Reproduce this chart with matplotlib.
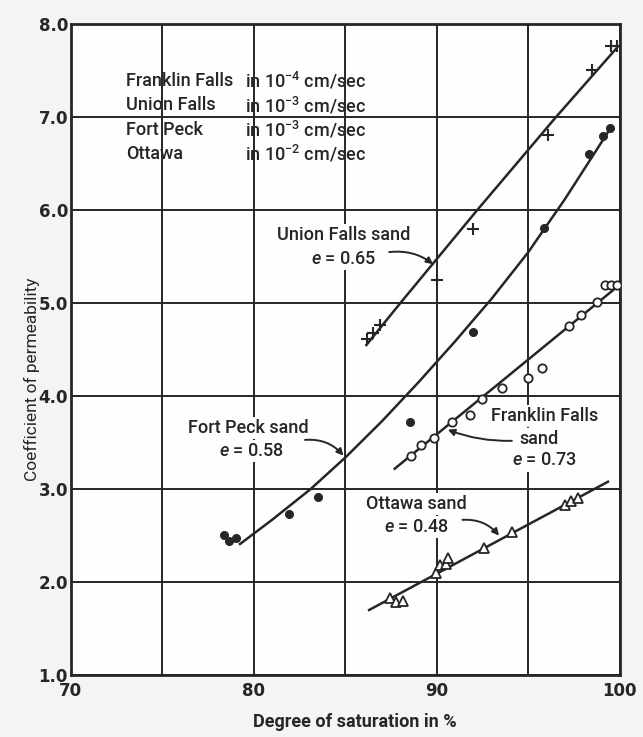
import matplotlib.pyplot as plt
import numpy as np

# data (x = degree of saturation %, y = coefficient)
union_x = [86.2, 86.5, 86.9, 90.0, 92.0, 96.1, 98.5, 99.5, 99.85]
union_y = [4.61, 4.68, 4.77, 5.25, 5.80, 6.81, 7.51, 7.77, 7.77]
union_curve_x = [86.15, 88.0, 92.2, 96.5, 99.85]
union_curve_y = [4.55, 5.0, 6.0, 7.0, 7.75]

fort_x = [78.4, 78.65, 79.05, 81.9, 83.5, 88.55, 92.0, 95.85, 98.3, 99.1, 99.45]
fort_y = [2.51, 2.44, 2.48, 2.73, 2.92, 3.72, 4.69, 5.81, 6.61, 6.80, 6.89]
fort_curve_x = [79.25, 81.0, 83.1, 85.0, 87.0, 89.0, 91.0, 93.0, 95.0, 97.0, 99.35]
fort_curve_y = [2.41, 2.67, 3.0, 3.34, 3.73, 4.15, 4.59, 5.05, 5.55, 6.12, 6.84]

franklin_x = [88.6, 89.15, 89.85, 90.85, 91.8, 92.45, 93.55, 95.0, 95.75,
              97.2, 97.9, 98.75, 99.2, 99.5, 99.85]
franklin_y = [3.36, 3.47, 3.55, 3.72, 3.80, 3.97, 4.09, 4.20, 4.30,
              4.75, 4.87, 5.01, 5.20, 5.20, 5.20]
franklin_curve_x = [87.7, 99.75]
franklin_curve_y = [3.22, 5.16]

ottawa_x = [87.45, 87.75, 88.15, 89.95, 90.2, 90.5, 90.6, 92.6, 94.1, 97.0, 97.35, 97.7]
ottawa_y = [1.83, 1.79, 1.80, 2.10, 2.18, 2.19, 2.26, 2.37, 2.54, 2.83, 2.87, 2.91]
ottawa_curve_x = [86.3, 99.35]
ottawa_curve_y = [1.70, 3.08]

units_names = ["Franklin Falls", "Union Falls", "Fort Peck", "Ottawa"]
units_exp = ["-4", "-3", "-3", "-2"]

xticks = [70, 80, 90, 100]
yticks = [1.0, 2.0, 3.0, 4.0, 5.0, 6.0, 7.0, 8.0]

ink = "#262626"
plt.rcParams['font.family'] = ["Roboto", "DejaVu Sans"]
plt.rcParams['font.weight'] = 'medium'
plt.rcParams['mathtext.fontset'] = 'custom'
plt.rcParams['mathtext.rm'] = 'Roboto:medium'
plt.rcParams['mathtext.it'] = 'Roboto:italic:medium'

fig = plt.figure(figsize=(6.43, 7.37), dpi=100, facecolor="#f4f4f4")
ax = fig.add_axes([0.110, 0.084, 0.854, 0.883])
ax.set_facecolor("#fefefe")

ax.set_xlim(70, 100)
ax.set_ylim(1.0, 8.0)
ax.set_xticks(np.arange(70, 101, 5))
ax.set_xticklabels([])
ax.set_yticks(yticks)
ax.set_yticklabels(["%.1f" % v for v in yticks], fontsize=12, fontweight="bold",
                   color=ink, family="DejaVu Sans")
for v in xticks:
    ax.text(v, 0.93, str(v), ha="center", va="top", fontsize=12, fontweight="bold",
            color=ink, family="DejaVu Sans")
ax.tick_params(length=0, pad=2)
ax.grid(True, color=ink, linewidth=1.4, zorder=0)
for s in ax.spines.values():
    s.set_linewidth(2.0)
    s.set_color(ink)

ax.set_ylabel("Coefficient of permeability", fontsize=12.5, color=ink)
ax.yaxis.set_label_coords(-0.056, 0.455)
ax.set_xlabel("Degree of saturation in %", fontsize=13, fontweight="bold", color=ink)
ax.xaxis.set_label_coords(0.517, -0.058)

# curves and points
lw = 1.8
ax.plot(union_curve_x, union_curve_y, color=ink, lw=lw, zorder=3)
ax.plot(fort_curve_x, fort_curve_y, color=ink, lw=lw, zorder=3)
ax.plot(franklin_curve_x, franklin_curve_y, color=ink, lw=lw, zorder=3)
ax.plot(ottawa_curve_x, ottawa_curve_y, color=ink, lw=lw, zorder=3)

ax.plot(union_x, union_y, "+", color=ink, ms=9, mew=1.5, zorder=4)
ax.plot(fort_x, fort_y, "o", color=ink, ms=5.5, zorder=4)
ax.plot(franklin_x, franklin_y, "o", mfc="white", mec=ink, ms=6, mew=1.3, zorder=4)
ax.plot(ottawa_x, ottawa_y, "^", mfc="white", mec=ink, ms=7, mew=1.3, zorder=4)

box = dict(facecolor="#fefefe", edgecolor="none", pad=1.5)
fs = 13

# units block
ax.fill_between([72.7, 86.6], 6.4, 7.56, color="#fefefe", zorder=1)
for i, (name, ex) in enumerate(zip(units_names, units_exp)):
    yy = 7.39 - i * 0.263
    ax.text(73.0, yy, name, fontsize=fs, color=ink, va="center", zorder=2)
    ax.text(79.5, yy, "in 10$^{%s}$ cm/sec" % ex, fontsize=fs, color=ink,
            va="center", zorder=2)

arrow = dict(arrowstyle="-|>", color=ink, lw=1.4, mutation_scale=10, shrinkA=0, shrinkB=0)

ax.text(84.9, 5.73, "Union Falls sand", fontsize=fs, color=ink, ha="center", va="center", bbox=box, zorder=2)
ax.text(84.9, 5.48, "$e$ = 0.65", fontsize=fs, color=ink, ha="center", va="center", bbox=box, zorder=2)
ax.annotate("", xy=(89.8, 5.42), xytext=(87.4, 5.55),
            arrowprops=dict(connectionstyle="arc3,rad=-0.2", **arrow), zorder=5)

ax.text(79.7, 3.66, "Fort Peck sand", fontsize=fs, color=ink, ha="center", va="center", bbox=box, zorder=2)
ax.text(79.9, 3.41, "$e$ = 0.58", fontsize=fs, color=ink, ha="center", va="center", bbox=box, zorder=2)
ax.annotate("", xy=(84.9, 3.36), xytext=(82.8, 3.53),
            arrowprops=dict(connectionstyle="arc3,rad=-0.25", **arrow), zorder=5)

ax.text(95.9, 3.79, "Franklin Falls", fontsize=fs, color=ink, ha="center", va="center", bbox=box, zorder=2)
ax.text(95.6, 3.54, "sand", fontsize=fs, color=ink, ha="center", va="center", bbox=box, zorder=2)
ax.text(95.9, 3.31, "$e$ = 0.73", fontsize=fs, color=ink, ha="center", va="center", bbox=box, zorder=2)
ax.annotate("", xy=(90.6, 3.64), xytext=(94.1, 3.52),
            arrowprops=dict(connectionstyle="arc3,rad=-0.1", **arrow), zorder=5)

ax.text(88.9, 2.84, "Ottawa sand", fontsize=fs, color=ink, ha="center", va="center", bbox=box, zorder=2)
ax.text(88.9, 2.59, "$e$ = 0.48", fontsize=fs, color=ink, ha="center", va="center", bbox=box, zorder=2)
ax.annotate("", xy=(93.4, 2.50), xytext=(91.4, 2.67),
            arrowprops=dict(connectionstyle="arc3,rad=-0.25", **arrow), zorder=5)

fig.savefig("out.png", dpi=100, facecolor=fig.get_facecolor())
